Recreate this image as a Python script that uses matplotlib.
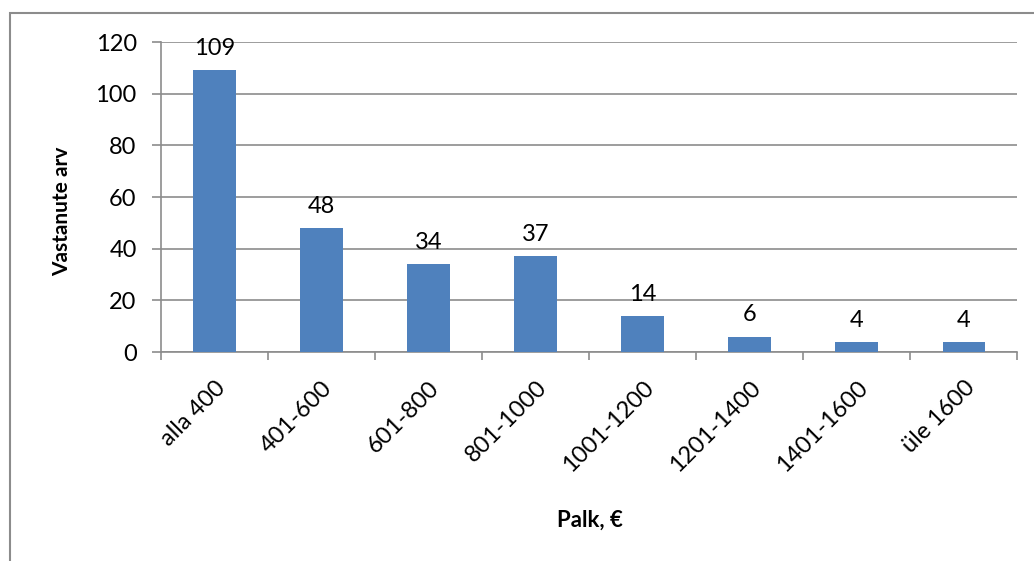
import numpy as np
import matplotlib.pyplot as plt
from matplotlib.patches import Rectangle

# data
categories = ['alla 400', '401-600', '601-800', '801-1000', '1001-1200',
              '1201-1400', '1401-1600', 'üle 1600']
counts = [109, 48, 34, 37, 14, 6, 4, 4]

plt.rcParams['font.family'] = ['Lato', 'DejaVu Sans']

fig = plt.figure(figsize=(10.34, 5.61), dpi=100)
ax = fig.add_axes([0.1557, 0.3725, 0.8283, 0.5525])

# outer chart border
fig.patches.append(Rectangle((10/1034, -0.1), 1.2, 1 - 13/561 + 0.1,
                             transform=fig.transFigure, fill=False,
                             edgecolor='#8c8c8c', linewidth=1.5))

x = np.arange(len(categories))
bars = ax.bar(x, counts, width=0.4, color='#4f81bd', zorder=3)
for xi, v in zip(x, counts):
    ax.annotate(str(v), (xi, v), xytext=(0, 8), textcoords='offset points',
                ha='center', va='bottom', fontsize=17)

ax.set_xlim(-0.5, len(categories) - 0.5)
ax.set_ylim(0, 120)
ax.set_yticks(range(0, 121, 20))
ax.tick_params(axis='y', labelsize=17, length=6.5, color='#8c8c8c', width=1.2, pad=11)
ax.yaxis.grid(True, color='#8c8c8c', linewidth=1.2, zorder=0)

ax.set_xticks(np.arange(-0.5, len(categories), 1))
ax.set_xticklabels([])
ax.set_xticks(x, minor=True)
ax.set_xticklabels(categories, minor=True, rotation=45, ha='right',
                   rotation_mode='anchor', fontsize=17)
ax.tick_params(axis='x', which='major', length=6, color='#8c8c8c', width=1.2)
ax.tick_params(axis='x', which='minor', length=0, pad=18)

for s in ['top', 'right']:
    ax.spines[s].set_visible(False)
for s in ['left', 'bottom']:
    ax.spines[s].set_color('#8c8c8c')
    ax.spines[s].set_linewidth(1.2)

fig.text(62/1034, 1 - 211/561, 'Vastanute arv', fontsize=15, fontweight='bold',
         rotation=90, ha='center', va='center')
fig.text(590/1034, 1 - 520/561, 'Palk, €', fontsize=16, fontweight='bold',
         ha='center', va='center')

fig.savefig('out.png', dpi=100)
